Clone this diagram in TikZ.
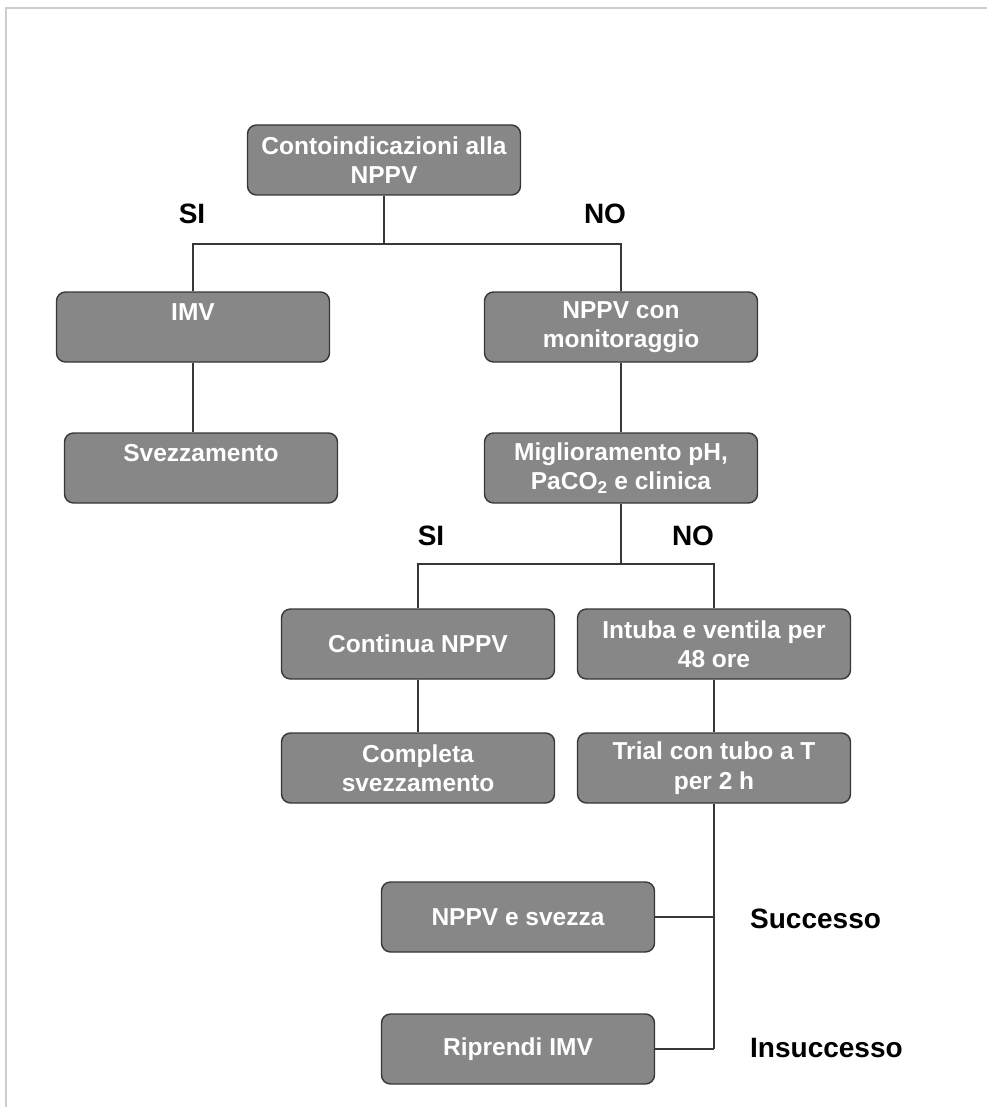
\documentclass[tikz,border=0pt]{standalone}
\usepackage{fontspec}
\setmainfont{Liberation Sans}
\definecolor{boxgray}{RGB}{135,135,135}
\definecolor{boxline}{RGB}{55,55,55}
\definecolor{framegray}{RGB}{205,205,205}

\begin{document}
\begin{tikzpicture}[
   x=1pt, y=-1pt,
   box/.style={
     rectangle,
     rounded corners=9pt,
     fill=boxgray,
     draw=boxline,
     line width=1.4pt,
     text=white,
     font=\fontsize{24.5}{29.5}\selectfont\bfseries,
     align=center,
     minimum width=273pt,
     minimum height=70pt,
     inner sep=0pt,
    },
   tag/.style={
     font=\fontsize{28}{30}\selectfont\bfseries,
     inner sep=0pt,
    },
   link/.style={
     draw=boxline,
     line width=1.4pt,
    },
  ]
\useasboundingbox (0,0) rectangle (987,1107);
\draw[framegray, line width=2pt] (6,1107) -- (6,8) -- (987,8);

\node[box] (contr) at (384,160) {Contoindicazioni alla\\NPPV};
\node[box] (imv) at (193,327) {IMV\\~};
\node[box] (svez) at (201,468) {Svezzamento\\~};
\node[box] (nppvm) at (621,327) {NPPV con\\monitoraggio};
\node[box] (migl) at (621,468) {Miglioramento pH,\\PaCO\textsubscript{2} e clinica};
\node[box] (cont) at (418,644) {Continua NPPV};
\node[box] (intuba) at (714,644) {Intuba e ventila per\\48 ore};
\node[box] (compl) at (418,768) {Completa\\svezzamento};
\node[box] (trial) at (714,768) {Trial con tubo a T\\per 2 h};
\node[box] (nppvs) at (518,917) {NPPV e svezza};
\node[box] (ripr) at (518,1049) {Riprendi IMV};

\node[tag] (si1) at (192,214) {SI};
\node[tag] (no1) at (605,214) {NO};
\node[tag] (si2) at (431,536) {SI};
\node[tag] (no2) at (693,536) {NO};
\node[tag, anchor=west] (succ) at (750,919) {Successo};
\node[tag, anchor=west] (insucc) at (750,1048) {Insuccesso};

\coordinate (j1) at (384,244);
\coordinate (j2) at (621,564);
\draw[link] (contr) -- (j1);
\draw[link] (imv) |- (j1) -| (nppvm);
\draw[link] (imv) -- (imv |- svez.north);
\draw[link] (nppvm) -- (migl);
\draw[link] (migl) -- (j2);
\draw[link] (cont) |- (j2) -| (intuba);
\draw[link] (cont) -- (compl);
\draw[link] (intuba) -- (trial);
\draw[link] (trial) -- (trial |- ripr);
\draw[link] (nppvs) -- (trial |- nppvs);
\draw[link] (ripr) -- (trial |- ripr);
\end{tikzpicture}
\end{document}
